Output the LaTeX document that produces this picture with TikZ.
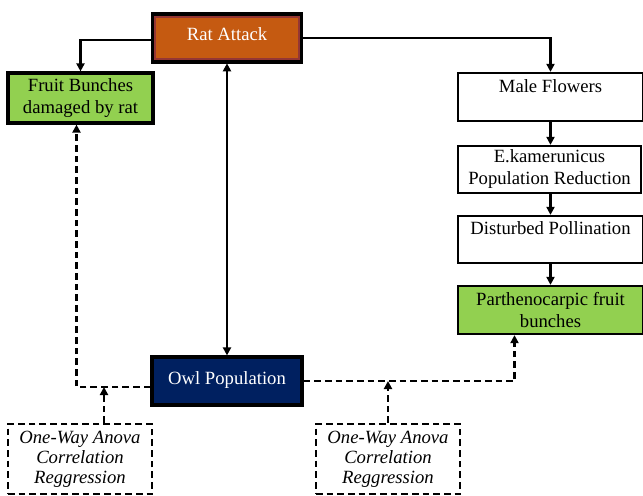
\documentclass[tikz,border=0pt]{standalone}
\usepackage{fontspec}
\setmainfont{Liberation Serif}
\usetikzlibrary{arrows.meta,calc}

\definecolor{ratorange}{HTML}{C55A11}
\definecolor{ratedge}{HTML}{943634}
\definecolor{owlblue}{HTML}{002060}
\definecolor{fruitgreen}{HTML}{92D050}

\begin{document}
\begin{tikzpicture}[x=0.75pt,y=-0.75pt,
    box/.style={draw=black, line width=1.7pt, align=center, inner sep=0pt,
        font=\fontsize{14}{16.5}\selectfont},
    statbox/.style={draw=black, line width=1.7pt, dash pattern=on 5pt off 3pt, align=center,
        inner sep=0pt, minimum width=108pt, minimum height=52.5pt,
        font=\fontsize{14}{15}\selectfont\itshape},
    arr/.style={line width=1.6pt, -{Triangle[length=6pt,width=6pt]}},
    dasharr/.style={arr, dash pattern=on 5pt off 3pt}]
    \useasboundingbox (0,0) rectangle (643,496);

    % top and bottom boxes
        \node[box, fill=ratorange, draw=ratedge, line width=2pt, outer sep=0pt, text=white,
              text depth=6pt, minimum width=108pt, minimum height=32pt] (rat) at (227,38)
            {Rat Attack};
        \draw[line width=2.4pt] ([shift={(-2pt,-2pt)}]rat.south west)
            rectangle ([shift={(2pt,2pt)}]rat.north east);
        \node[box, fill=owlblue, line width=2.4pt, text=white, text depth=4pt,
              minimum width=112.5pt, minimum height=36pt] (owl) at (227,381) {Owl Population};

    % effect boxes
        \node[box, fill=fruitgreen, line width=2.4pt, minimum width=108.75pt,
              minimum height=37.5pt] (fruit) at (80.5,98) {Fruit Bunches\\damaged by rat};
        \node[box, minimum width=138.75pt, minimum height=36pt] (male) at (550.5,97)
            {Male Flowers\\\mbox{}};
        \node[box, minimum width=137.25pt, minimum height=35.25pt] (ekam) at (549.5,169.5)
            {E.kamerunicus\\Population Reduction};
        \node[box, minimum width=138.75pt, minimum height=35.25pt] (dist) at (550.5,239.5)
            {Disturbed Pollination\\\mbox{}};
        \node[box, fill=fruitgreen, minimum width=138.75pt, minimum height=36pt] (parth)
            at (550.5,310) {Parthenocarpic fruit\\bunches};

    % statistics boxes
        \node[statbox] (statA) at (80,459) {One-Way Anova\\Correlation\\Reggression};
        \node[statbox] (statB) at (388,459) {One-Way Anova\\Correlation\\Reggression};

    % solid links
    \draw[arr] ([xshift=-3pt,yshift=-1.5pt]rat.west) -| (fruit.north);
    \draw[arr] ([xshift=3pt]rat.east) -| (male.north);
    \draw[arr] (male.south) -- (male.south |- ekam.north);
    \draw[arr] (dist.north |- ekam.south) -- (dist.north);
    \draw[arr] (dist.south) -- (parth.north);
    \draw[line width=1.6pt, {Triangle[length=6pt,width=6pt]}-{Triangle[length=6pt,width=6pt]}]
        ([yshift=-3pt]rat.south) -- (owl.north);

    % dashed links
    \coordinate (pin) at ([xshift=-27pt]parth.south);
    \coordinate (owlleft) at ([yshift=-4.5pt]owl.west);
    \coordinate (statAtop) at ([xshift=18pt]statA.north);
    \draw[dasharr] (owlleft) -| ([xshift=-3pt]fruit.south);
    \draw[dasharr] (owl.east) -| (pin);
    \draw[dasharr] (statAtop) -- (statAtop |- owlleft);
    \draw[dasharr] (statB.north) -- (statB.north |- owl.east);

\end{tikzpicture}
\end{document}
